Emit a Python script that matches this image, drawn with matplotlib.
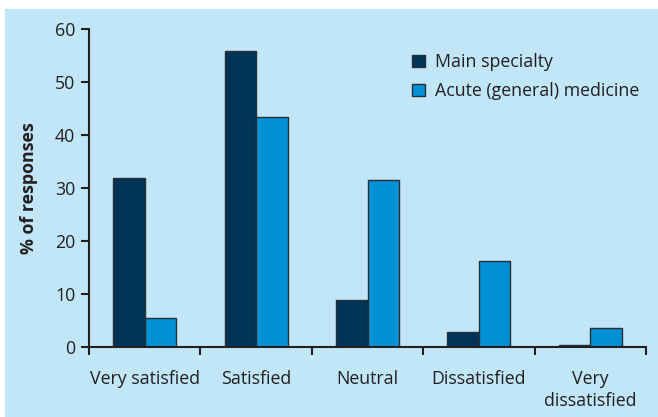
import matplotlib
matplotlib.use("Agg")
import matplotlib.pyplot as plt
import numpy as np
from matplotlib.patches import Rectangle

categories = ["Very satisfied", "Satisfied", "Neutral", "Dissatisfied", "Very\ndissatisfied"]
main_specialty = [32.0, 56.0, 9.0, 2.8, 0.5]
acute_medicine = [5.5, 43.4, 31.5, 16.3, 3.6]
series_labels = ["Main specialty", "Acute (general) medicine"]

BG = "#c0e6f8"
DARK = "#003358"
LIGHT = "#0090d6"
EDGE = "#2a2f35"
TEXT = "#231f20"

plt.rcParams["font.family"] = ["Open Sans", "DejaVu Sans"]
plt.rcParams["font.size"] = 12.8

fig = plt.figure(figsize=(6.58, 4.17), dpi=100)
fig.patch.set_facecolor("white")
fig.patches.append(Rectangle((5 / 658, 0), 1, (417 - 9) / 417,
                             transform=fig.transFigure, facecolor=BG,
                             edgecolor="none", zorder=-10))

ax = fig.add_axes([89 / 658, 1 - 347.3 / 417, 557 / 658, 318 / 417])
ax.set_facecolor("none")

x = np.arange(len(categories)) + 0.5
w = 0.283
ax.bar(x - w / 2, main_specialty, w, color=DARK, edgecolor=EDGE, linewidth=1.0,
       label=series_labels[0])
ax.bar(x + w / 2, acute_medicine, w, color=LIGHT, edgecolor=EDGE, linewidth=1.0,
       label=series_labels[1])

ax.set_xlim(0, len(categories))
ax.set_ylim(0, 60)
ax.set_yticks(np.arange(0, 61, 10))

# group boundaries get tick marks, category centres get labels
ax.set_xticks(np.arange(0, len(categories) + 1))
ax.set_xticklabels([])
ax.set_xticks(x, minor=True)
ax.set_xticklabels(categories, minor=True, color=TEXT, linespacing=1.3)
ax.tick_params(axis="x", which="minor", length=0, pad=16)
ax.tick_params(axis="x", which="major", length=6, width=1.5, color=TEXT)
ax.tick_params(axis="y", length=6, width=1.5, color=TEXT, labelcolor=TEXT, pad=4)

for side in ("top", "right"):
    ax.spines[side].set_visible(False)
for side in ("left", "bottom"):
    ax.spines[side].set_linewidth(1.5)
    ax.spines[side].set_color(TEXT)

ax.set_ylabel("% of responses", fontweight="bold", color=TEXT, labelpad=12)

ax.legend(loc="upper left", bbox_to_anchor=(0.552, 0.975), frameon=False,
          handlelength=0.7, handleheight=0.7, handletextpad=0.55,
          labelspacing=0.62, labelcolor=TEXT)

fig.savefig("out.png", dpi=100)
